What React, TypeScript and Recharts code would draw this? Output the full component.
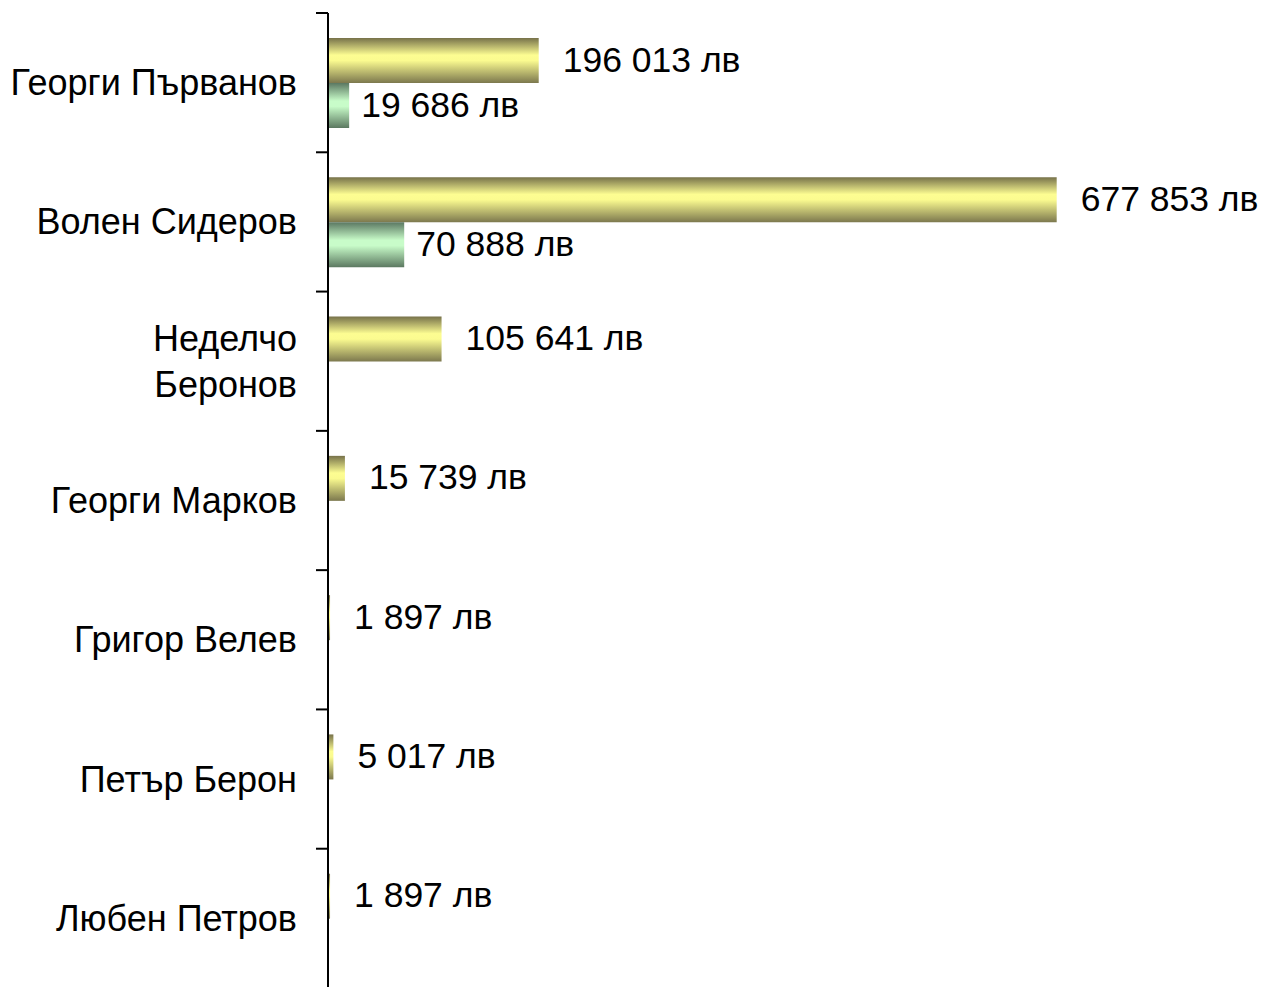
import React from 'react';
import { BarChart, Bar, XAxis, YAxis, LabelList } from 'recharts';

const categories = [
  'Георги Първанов',
  'Волен Сидеров',
  'Неделчо\nБеронов',
  'Георги Марков',
  'Григор Велев',
  'Петър Берон',
  'Любен Петров',
];
const totalValues = [196013, 677853, 105641, 15739, 1897, 5017, 1897];
const secondValues: (number | null)[] = [19686, 70888, null, null, null, null, null];
const currency = 'лв';

const data = categories.map((name, i) => ({
  name,
  total: totalValues[i],
  second: secondValues[i],
}));

const W = 1265;
const H = 988;
const MARGIN = { top: 13, right: 77, bottom: 0, left: 0 };
const AXIS_W = 328;
const TICK_SIZE = 12;
const TICK_MARGIN = 19;
const BAND = (H - MARGIN.top - MARGIN.bottom) / categories.length;
const FONT = '"Liberation Sans", Arial, sans-serif';

const fmt = (v: number) =>
  String(v).replace(/\B(?=(\d{3})+(?!\d))/g, ' ') + ' ' + currency;

const CategoryTick = (props: any) => {
  const { x, y, payload } = props;
  const lines = String(payload.value).split('\n');
  const lh = 46;
  const startDy = -((lines.length - 1) * lh) / 2;
  const axisX = x + TICK_MARGIN + TICK_SIZE;
  return (
    <g>
      <line
        x1={axisX - TICK_SIZE}
        x2={axisX}
        y1={y - BAND / 2}
        y2={y - BAND / 2}
        stroke="#000"
        strokeWidth={2}
      />
      <text
        x={x}
        y={y}
        textAnchor="end"
        fontFamily={FONT}
        fontSize={36}
        fill="#000"
      >
        {lines.map((l, i) => (
          <tspan key={i} x={x} y={y + startDy + i * lh} dominantBaseline="central">
            {l}
          </tspan>
        ))}
      </text>
    </g>
  );
};

const makeLabel = (offset: number) => (props: any) => {
  const { x, y, width, height, value } = props;
  if (value === null || value === undefined) return null;
  return (
    <text
      x={Number(x) + Number(width) + offset}
      y={Number(y) + Number(height) / 2 - 1}
      dominantBaseline="central"
      fontFamily={FONT}
      fontSize={35.5}
      fill="#000"
    >
      {fmt(Number(value))}
    </text>
  );
};

export default function App() {
  return (
    <div style={{ width: W, height: 987, overflow: 'hidden', background: '#fff' }}>
      <style>{'body{margin:0;overflow:hidden;background:#fff}'}</style>
      <BarChart
        width={W}
        height={H}
        data={data}
        layout="vertical"
        margin={MARGIN}
        barSize={45}
        barGap={0}
      >
        <defs>
          <linearGradient id="gradYellow" x1="0" y1="0" x2="0" y2="1">
            <stop offset="0" stopColor="#77724a" />
            <stop offset="0.38" stopColor="#fdfd92" />
            <stop offset="0.5" stopColor="#fbfb90" />
            <stop offset="1" stopColor="#7c784e" />
          </linearGradient>
          <linearGradient id="gradGreen" x1="0" y1="0" x2="0" y2="1">
            <stop offset="0" stopColor="#5b7862" />
            <stop offset="0.4" stopColor="#c8fcc9" />
            <stop offset="0.52" stopColor="#c8fcc9" />
            <stop offset="1" stopColor="#5b7860" />
          </linearGradient>
        </defs>
        <XAxis type="number" domain={[0, 800000]} hide />
        <YAxis
          type="category"
          dataKey="name"
          width={AXIS_W}
          axisLine={{ stroke: '#000', strokeWidth: 2 }}
          tickLine={false}
          tickSize={TICK_SIZE}
          tickMargin={TICK_MARGIN}
          tick={<CategoryTick />}
          interval={0}
        />
        <Bar dataKey="total" fill="url(#gradYellow)" isAnimationActive={false}>
          <LabelList dataKey="total" content={makeLabel(24)} />
        </Bar>
        <Bar dataKey="second" fill="url(#gradGreen)" isAnimationActive={false}>
          <LabelList dataKey="second" content={makeLabel(12)} />
        </Bar>
      </BarChart>
    </div>
  );
}
